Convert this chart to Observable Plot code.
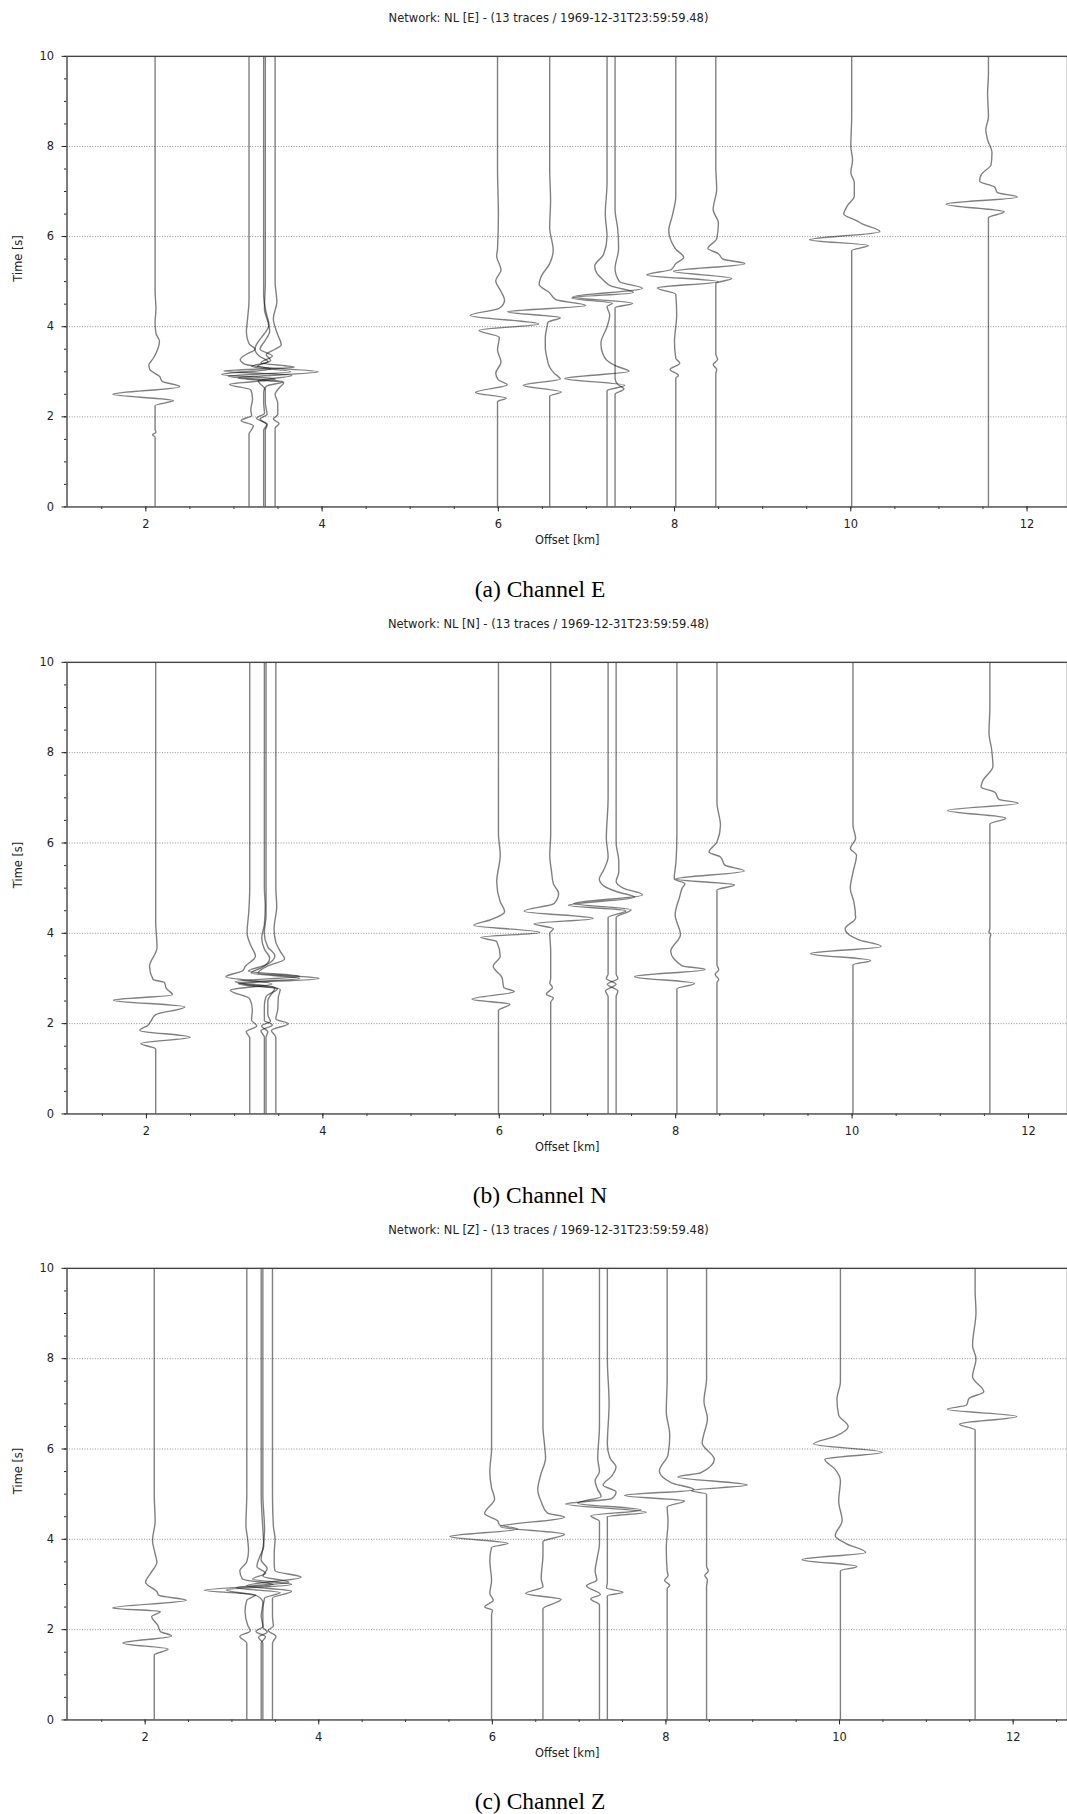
<!DOCTYPE html>
<html>
<head>
<meta charset="utf-8">
<script src="https://cdn.jsdelivr.net/npm/d3@7"></script>
<script src="https://cdn.jsdelivr.net/npm/@observablehq/plot@0.6"></script>
<style>
  html, body { margin: 0; padding: 0; background: #fff; }
  body { width: 1067px; height: 1814px; overflow: hidden; position: relative; }
  .title { position: absolute; left: 0; width: 1097px; text-align: center; white-space: nowrap;
           font: 11.5px "DejaVu Sans", sans-serif; line-height: 14px; color: #222; }
  .caption { position: absolute; left: 0; width: 1080px; text-align: center; white-space: nowrap;
             font: 23.5px "Liberation Serif", "Times New Roman", serif; line-height: 28px; color: #000; }
  svg.panel { position: absolute; left: 0; }
</style>
</head>
<body>
<script>
// Station offsets along the profile (km), shared by the three channels
const stationOffsets = [2.105, 3.171, 3.337, 3.356, 3.467, 5.991, 6.583, 7.234, 7.325, 8.014, 8.468, 10.01, 11.562];

const channels = ["E", "N", "Z"];
const panelTitles = channels.map(c => `Network: NL [${c}] - (13 traces / 1969-12-31T23:59:59.48)`);
const captions = ["(a) Channel E", "(b) Channel N", "(c) Channel Z"];

const timeTicks = [0, 2, 4, 6, 8, 10];
const gridTimes = [2, 4, 6, 8];
const minorTimes = d3.range(0, 10.01, 0.5);
const offsetTicks = [2, 4, 6, 8, 10, 12];
const minorOffsets = d3.range(1.5, 12.51, 0.5);

// Normalised trace deflections: [time s, horizontal deflection km] per station
const wigglesE = [
  [[1.55,0],[1.6,-0.03],[1.66,0.01],[1.72,0],[2.25,0],[2.36,0.21],[2.5,-0.48],[2.67,0.28],[2.79,0.08],[2.9,0.05],[3.05,-0.06],[3.15,-0.07],[3.3,-0.02],[3.5,0.03],[3.68,0.05],[3.85,0.01],[4.1,0],[4.4,0.01],[4.8,0]],
  [[1.62,0],[1.72,0.03],[1.8,0.05],[1.92,-0.09],[2.03,0.03],[2.15,0.02],[2.4,0.04],[2.6,0.02],[2.72,-0.22],[2.84,0.3],[2.94,-0.31],[3.06,0.25],[3.17,-0.05],[3.27,-0.1],[3.4,-0.02],[3.5,0.07],[3.62,0],[3.89,-0.03],[4.11,-0.02],[4.6,0],[5,0]],
  [[1.7,0],[1.84,0.04],[1.97,-0.08],[2.08,0.01],[2.3,0],[2.55,0],[2.68,0.03],[2.78,0.22],[2.9,-0.4],[3,0.31],[3.12,-0.14],[3.22,0.05],[3.35,-0.05],[3.5,-0.1],[3.67,-0.06],[3.85,0.01],[4.04,0.06],[4.3,0.03],[4.7,0],[5,0]],
  [[1.7,0],[1.82,0.02],[1.95,-0.06],[2.06,0.02],[2.3,0],[2.6,0],[2.8,-0.08],[2.92,0.3],[3.02,-0.47],[3.1,0.33],[3.2,-0.05],[3.35,0.08],[3.5,-0.06],[3.7,0],[3.9,0.05],[4.1,0.03],[4.4,-0.01],[5,0]],
  [[1.65,0],[1.75,0],[1.85,0.045],[1.95,-0.02],[2.05,0.03],[2.3,0.03],[2.5,0],[2.65,0.05],[2.76,0.1],[2.86,-0.42],[3,0.49],[3.12,-0.2],[3.25,-0.05],[3.38,-0.1],[3.5,0],[3.6,0.07],[3.82,0.03],[4.18,-0.02],[4.55,0.02],[5,0]],
  [[2.34,0],[2.41,0.1],[2.54,-0.25],[2.71,0.11],[2.82,0.01],[2.97,-0.02],[3.21,0.04],[3.49,0],[3.76,0.02],[3.92,-0.21],[4.06,0.47],[4.25,-0.31],[4.41,0.02],[4.59,0.08],[4.78,0.04],[5.02,-0.02],[5.26,0.04],[5.57,-0.01],[5.73,0],[6.5,0.01],[7.5,0]],
  [[2.46,0],[2.55,0.13],[2.7,-0.3],[2.84,0.12],[2.97,0.05],[3.1,0],[3.3,-0.03],[3.55,-0.05],[3.76,-0.05],[4,-0.03],[4.1,-0.02],[4.2,0.12],[4.33,-0.48],[4.47,0.41],[4.6,0.07],[4.75,0],[4.94,-0.12],[5.1,-0.1],[5.4,0],[5.7,0.04],[6.2,0],[6.8,0.01],[7.5,0]],
  [[2.58,0],[2.7,0.2],[2.85,-0.48],[3.01,0.25],[3.13,0.1],[3.25,0],[3.41,-0.05],[3.63,-0.07],[4,0],[4.26,0.03],[4.45,0],[4.52,0.06],[4.64,-0.4],[4.76,0.3],[4.9,0.05],[5.05,-0.05],[5.2,-0.12],[5.35,-0.14],[5.6,-0.04],[6,0],[6.5,-0.02],[7.2,0]],
  [[2.5,0],[2.62,0.1],[2.72,0.03],[2.85,0],[4.42,0],[4.52,0.2],[4.66,-0.48],[4.85,0.31],[5,0.05],[5.29,0],[5.73,0.04],[6.17,0.03],[6.6,0],[7.5,0]],
  [[2.86,0],[2.92,0.03],[3.05,-0.065],[3.19,0.045],[3.3,0],[3.67,-0.015],[4.26,0.01],[4.72,0],[4.86,-0.21],[5,0.48],[5.15,-0.33],[5.27,-0.05],[5.4,0],[5.54,0.09],[5.72,0],[5.87,-0.045],[6.13,-0.08],[6.46,-0.04],[6.9,0],[7.5,0]],
  [[2.95,0],[3.05,0.01],[3.16,-0.03],[3.27,0.02],[3.4,0],[4.96,0],[5.07,0.18],[5.23,-0.48],[5.4,0.33],[5.5,0.08],[5.62,0.03],[5.74,-0.09],[5.95,0.01],[6.3,0.03],[6.6,-0.03],[7.05,0.01],[7.56,0]],
  [[5.69,0],[5.8,0.19],[5.93,-0.48],[6.11,0.32],[6.28,0.12],[6.35,0.06],[6.5,-0.09],[6.68,-0.05],[6.9,0.03],[7.2,0.03],[7.42,-0.01],[7.7,0.01],[8,-0.01],[8.66,0]],
  [[6.42,0],[6.55,0.18],[6.72,-0.48],[6.88,0.33],[6.98,0.1],[7.1,0.07],[7.23,-0.1],[7.38,-0.08],[7.6,0.03],[7.86,0.04],[8.15,-0.01],[8.37,-0.03],[8.66,0],[9.18,-0.01],[9.6,0]]
];

const wigglesN = [
  [[1.44,0],[1.56,-0.17],[1.7,0.39],[1.85,-0.18],[1.96,-0.09],[2.07,-0.05],[2.2,0],[2.37,0.33],[2.52,-0.48],[2.64,0.19],[2.78,0.12],[2.91,0.1],[2.98,-0.03],[3.27,-0.07],[3.68,0.015],[4.27,0],[5,0]],
  [[1.68,0],[1.82,-0.04],[1.95,0.08],[2.08,0.02],[2.3,0.03],[2.55,0],[2.74,-0.22],[2.88,0.25],[3.04,-0.27],[3.17,-0.08],[3.27,-0.05],[3.49,0.065],[3.74,0.01],[4,-0.03],[4.5,-0.01],[5,0]],
  [[1.7,0],[1.84,-0.04],[1.97,0.09],[2.07,0],[2.4,0],[2.6,0.02],[2.78,0.15],[2.9,-0.3],[3,0.4],[3.12,-0.15],[3.25,-0.02],[3.45,0.06],[3.65,0],[3.9,-0.03],[4.2,0],[4.6,0.01],[5,0]],
  [[1.7,0],[1.82,0.02],[1.95,-0.05],[2.05,0.05],[2.2,0.02],[2.5,0.02],[2.8,0.1],[2.93,-0.35],[3.05,0.38],[3.16,-0.2],[3.3,0],[3.5,0.1],[3.7,0.02],[4,-0.02],[4.4,0],[5,0]],
  [[1.7,0],[1.85,-0.05],[2,0.14],[2.1,0],[2.3,0.02],[2.6,0.03],[2.76,0.05],[2.88,-0.42],[3,0.49],[3.12,-0.2],[3.27,-0.1],[3.43,0.1],[3.6,0.05],[3.8,0],[4.1,-0.02],[4.6,0.01],[5,0]],
  [[2.29,0],[2.43,0.13],[2.54,-0.3],[2.71,0.18],[2.8,0.06],[3.02,0.04],[3.27,-0.06],[3.49,0.02],[3.82,-0.02],[3.91,-0.2],[4.02,0.47],[4.18,-0.28],[4.3,-0.09],[4.48,0.07],[4.7,0.02],[5.14,-0.02],[5.73,0.02],[6.2,0]],
  [[2.47,0],[2.57,0.03],[2.65,-0.05],[2.8,0.02],[2.9,-0.01],[3,0],[3.6,0],[4,-0.01],[4.1,0.03],[4.21,-0.19],[4.33,0.48],[4.49,-0.3],[4.66,0.04],[4.88,0.09],[5.1,0.03],[5.36,0.01],[5.73,-0.01],[6.2,0]],
  [[2.6,0],[2.72,-0.03],[2.87,0.09],[3,-0.02],[3.1,0],[4.35,0],[4.5,0.2],[4.62,-0.45],[4.8,0.3],[4.92,0.1],[5.05,-0.05],[5.2,-0.1],[5.4,-0.05],[5.7,0],[6.1,-0.02],[7,0]],
  [[2.6,0],[2.72,0.02],[2.87,-0.1],[3,0.02],[3.1,0],[4.35,0],[4.52,0.17],[4.66,-0.48],[4.85,0.3],[5,0.08],[5.15,0],[5.35,0.03],[5.6,0.03],[6,0],[7,0]],
  [[2.77,0],[2.89,0.2],[3.04,-0.48],[3.2,0.32],[3.28,0.06],[3.6,-0.07],[3.97,0.04],[4.41,-0.02],[4.8,0.03],[5,0.06],[5.1,0.09],[5.2,-0.03],[5.6,-0.01],[6.2,0]],
  [[2.9,0],[2.98,0.02],[3.09,-0.02],[3.2,0.02],[3.3,0],[4.96,0],[5.07,0.2],[5.2,-0.47],[5.38,0.31],[5.51,0.09],[5.69,0.04],[5.8,-0.09],[6.02,0],[6.39,0.04],[6.9,0],[7.5,0]],
  [[3.3,0],[3.4,0.2],[3.55,-0.48],[3.71,0.32],[3.86,0.06],[4.1,-0.09],[4.34,0.03],[4.7,0.01],[5,-0.03],[5.35,0],[5.73,0.04],[5.88,-0.03],[6.1,0.03],[6.4,0],[7,0]],
  [[3.9,0],[3.97,0.01],[4.03,-0.01],[4.1,0],[6.42,0],[6.55,0.18],[6.72,-0.48],[6.88,0.32],[6.97,0.1],[7.12,0.06],[7.24,-0.1],[7.38,-0.08],[7.7,0.035],[8.07,0.02],[8.44,-0.01],[9,0]]
];

const wigglesZ = [
  [[1.44,0],[1.57,0.16],[1.7,-0.36],[1.86,0.2],[1.96,0.07],[2.1,0.04],[2.29,-0.03],[2.4,0.07],[2.48,-0.48],[2.65,0.37],[2.76,0.05],[2.84,0.03],[3.05,-0.1],[3.24,-0.045],[3.49,0.03],[3.68,0.01],[3.97,-0.02],[4.4,0.01],[5,0]],
  [[1.7,0],[1.85,-0.08],[1.97,0.04],[2.1,0.01],[2.4,-0.02],[2.65,0],[2.77,0.1],[2.87,-0.49],[3,0.3],[3.12,-0.05],[3.3,-0.08],[3.5,0],[3.75,0.02],[4,0.01],[4.3,-0.01],[5,0]],
  [[1.7,0],[1.84,0.05],[1.96,-0.06],[2.07,0.02],[2.3,0],[2.6,0.02],[2.75,-0.05],[2.88,-0.4],[3,0.35],[3.12,-0.1],[3.25,0.05],[3.4,-0.05],[3.6,-0.02],[3.85,0.03],[4.2,0.02],[5,0]],
  [[1.7,0],[1.83,-0.05],[1.95,0.05],[2.05,0],[2.4,0],[2.7,0.02],[2.82,0.2],[2.93,-0.3],[3.05,0.3],[3.18,0],[3.35,0.05],[3.55,-0.02],[3.8,0],[4.2,0.02],[5,0]],
  [[1.7,0],[1.85,0.04],[1.98,-0.05],[2.08,0.01],[2.3,0],[2.7,0],[2.85,0.22],[2.97,-0.3],[3.16,0.33],[3.3,0.03],[3.45,0.02],[3.7,0.02],[4,0.03],[4.3,0.01],[5,0]],
  [[2.32,0],[2.43,0.01],[2.5,-0.08],[2.65,0.02],[2.8,-0.02],[3.09,0],[3.53,-0.02],[3.82,0],[3.91,0.19],[4.06,-0.48],[4.23,0.3],[4.32,0.09],[4.41,0.07],[4.57,-0.08],[4.89,0.035],[5.14,0],[5.51,-0.02],[6,0]],
  [[2.46,0],[2.67,0.21],[2.8,-0.2],[2.95,0],[3.14,-0.02],[3.65,0],[3.95,0],[4.11,0.25],[4.28,-0.49],[4.49,0.25],[4.58,0.05],[4.83,-0.02],[5.1,-0.06],[5.4,-0.03],[5.8,0.03],[6.06,0.02],[6.5,0]],
  [[2.55,0],[2.68,-0.1],[2.78,0.01],[2.97,-0.15],[3.1,-0.03],[3.3,-0.05],[3.55,-0.03],[3.9,0],[4.4,0],[4.52,-0.1],[4.65,0.48],[4.8,-0.25],[4.95,0.02],[5.1,-0.02],[5.3,-0.05],[5.5,0],[5.8,-0.02],[6.5,0]],
  [[2.6,0],[2.75,0],[2.83,0.18],[2.92,-0.01],[3.05,0],[4.4,0],[4.5,0],[4.6,0.45],[4.78,-0.48],[4.9,0.05],[5.05,0.1],[5.2,-0.05],[5.4,0.05],[5.6,0.1],[5.8,0.03],[6.1,0],[7,0.02],[8,0]],
  [[2.91,0],[2.98,0.03],[3.09,-0.03],[3.2,0.01],[3.3,0],[3.8,-0.01],[4.4,0.01],[4.72,0],[4.85,0.2],[4.97,-0.49],[5.1,0.31],[5.25,0.05],[5.51,-0.09],[5.87,0.01],[6.3,0.03],[6.83,-0.01],[7.56,0]],
  [[2.95,0],[3.1,0.01],[3.2,-0.02],[3.3,0.02],[3.4,0],[5,0],[5.08,-0.18],[5.2,0.47],[5.38,-0.33],[5.47,-0.07],[5.77,0.09],[6.13,-0.05],[6.68,0.01],[7.05,-0.03],[7.56,0]],
  [[3.3,0],[3.4,0.19],[3.55,-0.44],[3.71,0.29],[3.9,0.07],[4.08,-0.06],[4.41,0.02],[4.85,-0.02],[5.29,0],[5.55,-0.06],[5.77,-0.18],[5.93,0.48],[6.11,-0.31],[6.28,-0.06],[6.5,0.09],[6.75,-0.02],[7.1,-0.04],[7.49,0],[8.3,0]],
  [[6.42,0],[6.55,-0.18],[6.72,0.48],[6.88,-0.32],[6.97,-0.1],[7.12,-0.07],[7.27,0.1],[7.6,-0.03],[8,0.01],[8.29,-0.03],[9.03,0.01],[9.5,0]]
];

const wiggles = [wigglesE, wigglesN, wigglesZ];

// Page layout of the three stacked section plots (pixels) and their offset ranges
const layout = [
  { frameTop: 56,   frameBottom: 510,  titleY: 18,   captionY: 589,  xDomain: [1.1055, 12.459] },
  { frameTop: 662,  frameBottom: 1117, titleY: 624,  captionY: 1195, xDomain: [1.0995, 12.442] },
  { frameTop: 1268, frameBottom: 1723, titleY: 1230, captionY: 1801, xDomain: [1.0998, 12.626] }
];

function traceRows(k) {
  const rows = [];
  wiggles[k].forEach((trace, i) => {
    const base = stationOffsets[i];
    rows.push({ trace: i, t: 0, x: base });
    for (const [t, dx] of trace) rows.push({ trace: i, t, x: base + dx });
    rows.push({ trace: i, t: 10, x: base });
  });
  return rows;
}

function addText(cls, text, centerY, half) {
  const div = document.createElement("div");
  div.className = cls;
  div.textContent = text;
  div.style.top = (centerY - half) + "px";
  document.body.appendChild(div);
}

layout.forEach((L, k) => {
  const mt = 20, mb = 50;
  const frameH = L.frameBottom - L.frameTop;
  const svg = Plot.plot({
    width: 1075,
    height: mt + frameH + mb,
    marginLeft: 67, marginRight: 0, marginTop: mt, marginBottom: mb,
    style: { fontFamily: "DejaVu Sans, sans-serif", fontSize: "11.5px", color: "#222", background: "none", overflow: "visible" },
    x: { domain: L.xDomain, label: null },
    y: { domain: [0, 10], label: null },
    marks: [
      Plot.ruleY(gridTimes, { stroke: "#777", strokeWidth: 0.8, strokeDasharray: "1,1.6" }),
      // time runs monotonically along each trace, so a monotone-in-y spline keeps flat stretches straight
      Plot.line(traceRows(k), {
        x: "x", y: "t", z: "trace", curve: "monotone-y",
        stroke: "#000", strokeOpacity: 0.5, strokeWidth: 1.4, clip: true
      }),
      Plot.axisY(minorTimes, { tickSize: 2.5, tickFormat: () => "", label: null }),
      Plot.axisY(timeTicks, { tickSize: 5, tickPadding: 8, label: null }),
      Plot.axisX(minorOffsets, { tickSize: 2.5, tickFormat: () => "", label: null }),
      Plot.axisX(offsetTicks, { tickSize: 5, tickPadding: 8, label: null }),
      Plot.frame({ stroke: "#444", strokeWidth: 1.4 }),
      Plot.text(["Offset [km]"], { frameAnchor: "bottom", dy: 33.6, lineAnchor: "middle", fontSize: 11.5, fill: "#222" }),
      Plot.text(["Time [s]"], { frameAnchor: "left", dx: -49, rotate: -90, fontSize: 11.5, fill: "#222" })
    ]
  });
  svg.classList.add("panel");
  svg.style.top = (L.frameTop - mt) + "px";
  document.body.appendChild(svg);
  addText("title", panelTitles[k], L.titleY, 7);
  addText("caption", captions[k], L.captionY, 14);
});
</script>
</body>
</html>
